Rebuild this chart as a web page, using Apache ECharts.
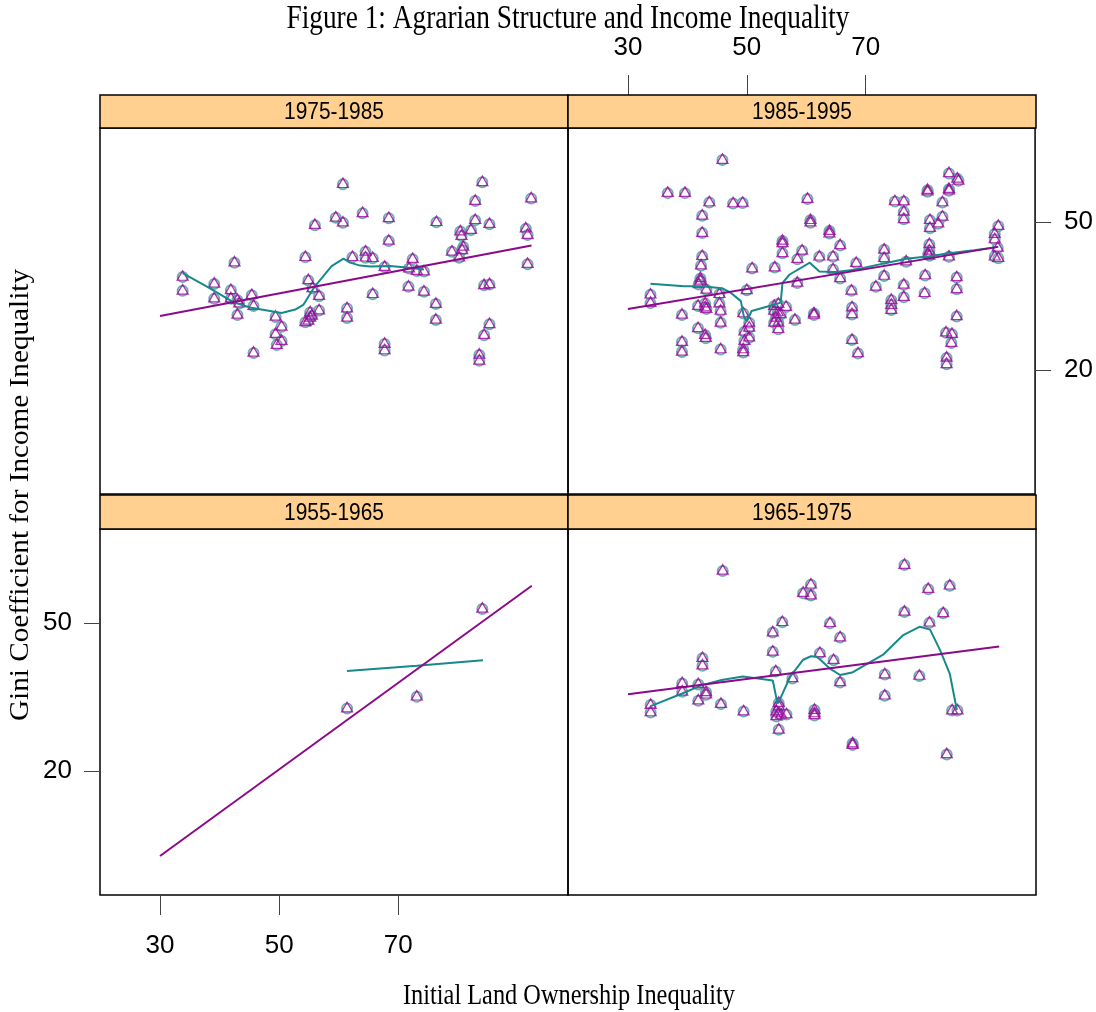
<!DOCTYPE html>
<html><head><meta charset="utf-8">
<script src="https://cdn.jsdelivr.net/npm/echarts@6/dist/echarts.min.js"></script>
<style>html,body{margin:0;padding:0;background:#fff}#c{width:1096px;height:1012px}</style>
</head><body><div id="c"></div>
<script>
// ---------- data ----------
const panelNames = ['1975-1985', '1985-1995', '1955-1965', '1965-1975'];
const xTicks = [30, 50, 70];
const yTicks = [20, 50];
const titleText = 'Figure 1: Agrarian Structure and Income Inequality';
const xLabelText = 'Initial Land Ownership Inequality';
const yLabelText = 'Gini Coefficient for Income Inequality';

const pts7585 = [[33.8,39.2],[33.8,36.4],[39.1,37.8],[39.1,34.8],[42.5,42.1],[41.9,36.5],[41.9,34.8],[43.0,34.5],[43.3,33.8],[43.0,31.5],[45.4,35.5],[45.7,33.3],[45.7,23.8],[49.4,31.1],[50.4,29.1],[49.4,27.6],[50.4,26.2],[49.6,25.4],[54.4,43.2],[54.9,38.5],[55.6,36.9],[56.7,35.3],[56.7,32.4],[55.2,32.0],[55.5,31.3],[55.2,30.9],[54.9,30.3],[54.4,30.0],[56.0,49.7],[60.7,58.0],[59.5,51.2],[60.7,50.2],[62.3,43.2],[61.4,32.8],[61.4,30.9],[64.0,52.1],[64.5,44.3],[64.5,43.1],[65.7,43.0],[68.4,51.1],[68.4,46.5],[67.7,41.2],[65.7,35.7],[67.7,25.6],[67.7,24.3],[72.4,42.8],[71.8,40.9],[73.1,40.4],[74.3,40.3],[71.7,37.2],[74.3,36.2],[76.4,50.3],[76.3,33.7],[76.3,30.5],[79.0,44.3],[80.4,48.4],[80.6,47.5],[80.9,45.3],[80.7,44.6],[80.2,43.1],[82.2,48.7],[82.9,54.6],[82.9,50.7],[84.1,58.4],[85.3,49.9],[84.4,37.5],[85.3,37.7],[85.3,29.6],[84.4,27.4],[83.6,23.4],[83.6,22.2],[91.4,49.0],[91.7,47.7],[92.3,55.1],[91.7,41.8]];
const reg7585 = [[30,31.0],[92.35,45.3]];
const loess7585 = [[33.8,39.7],[38.1,36.8],[42.3,33.8],[45.1,32.7],[50.4,31.6],[52.7,32.3],[54.1,33.3],[56.0,37.0],[58.8,41.1],[60.8,42.6],[61.9,41.8],[63.6,41.2],[65.3,41.0],[68.6,41.1],[71.4,40.8],[74.3,40.4]];

const pts8595 = [[45.9,62.9],[36.7,56.2],[39.6,56.2],[43.7,54.3],[47.7,54.1],[49.3,54.2],[42.5,51.6],[42.5,48.1],[42.5,43.4],[42.3,41.5],[42.2,38.9],[42.2,38.4],[41.9,37.7],[43.2,36.6],[33.8,35.6],[33.8,33.9],[39.1,31.5],[41.8,33.3],[43.0,33.8],[43.0,33.0],[43.2,32.7],[45.4,35.7],[45.4,33.8],[45.6,32.3],[45.6,29.9],[41.8,28.8],[43.0,27.4],[43.1,26.8],[39.1,26.0],[39.1,24.0],[45.6,24.5],[49.4,24.5],[49.4,23.9],[49.6,26.2],[49.6,28.1],[50.4,26.9],[50.4,28.9],[50.4,29.9],[49.4,31.8],[50.0,36.5],[50.9,40.9],[54.7,41.1],[56.0,46.5],[56.0,46.0],[56.0,44.0],[59.3,44.5],[58.5,42.8],[58.5,38.0],[58.1,30.5],[54.6,33.3],[55.3,33.7],[56.6,33.1],[54.6,32.3],[55.2,32.0],[55.7,31.6],[54.9,30.9],[55.3,29.9],[54.6,29.9],[55.3,28.6],[60.2,55.0],[60.7,50.7],[60.7,50.2],[63.9,48.5],[63.9,48.0],[65.7,45.6],[62.2,43.3],[64.5,43.3],[64.5,40.7],[65.7,38.9],[68.4,42.0],[67.6,36.4],[61.3,31.8],[61.3,31.5],[67.7,33.0],[67.7,31.6],[67.7,26.4],[68.7,23.7],[71.7,37.2],[73.1,44.7],[73.1,43.0],[73.1,39.4],[74.3,34.5],[74.3,33.5],[74.3,32.5],[74.9,54.5],[76.4,54.5],[76.4,52.4],[76.4,50.9],[76.4,37.6],[76.4,35.1],[76.8,42.3],[80.0,39.5],[79.9,35.9],[80.4,56.8],[80.4,56.5],[80.7,45.8],[80.7,44.5],[80.5,43.8],[80.7,43.5],[80.8,50.7],[80.8,49.1],[82.2,50.0],[82.9,51.4],[82.9,54.3],[84.0,60.2],[84.0,57.0],[84.0,56.7],[85.4,59.1],[85.6,58.7],[84.0,43.3],[85.3,39.1],[85.3,36.7],[85.3,31.2],[83.5,27.9],[84.5,27.6],[84.4,25.8],[83.6,22.8],[83.6,21.5],[91.7,47.9],[91.7,46.8],[92.3,49.5],[92.2,45.1],[91.7,43.3],[92.3,43.0]];
const reg8595 = [[30,32.4],[92.2,45.0]];
const loess8595 = [[33.8,37.5],[39.5,37.0],[42.3,37.0],[45.9,36.6],[47.3,35.7],[49.0,34.0],[49.5,30.9],[50.0,29.9],[50.8,32.0],[54.1,33.1],[55.7,33.7],[56.0,37.7],[57.2,39.4],[60.6,41.8],[62.2,40.0],[65.0,39.9],[68.4,40.4],[72.9,41.6],[76.8,42.6],[80.7,43.1],[84.0,43.7],[88.2,44.3],[92.3,45.0]];

const pts5565 = [[61.4,33.0],[73.1,35.4],[84.1,53.2]];
const reg5565 = [[30,2.8],[92.4,57.6]];
const loess5565 = [[61.4,40.3],[73.1,41.4],[84.2,42.5]];

const pts6575 = [[45.9,60.9],[42.5,43.2],[42.5,41.7],[39.1,38.1],[39.1,36.4],[41.8,37.9],[41.8,34.6],[43.1,36.3],[43.1,35.8],[33.8,33.7],[33.8,32.2],[45.6,33.9],[49.4,32.4],[54.3,48.4],[55.9,50.5],[54.3,44.5],[54.8,40.5],[57.6,39.1],[55.3,34.1],[55.3,33.4],[54.9,32.4],[55.3,32.0],[54.9,31.4],[55.7,31.7],[56.6,31.8],[55.3,28.7],[59.4,56.4],[60.7,58.1],[60.7,55.9],[63.9,50.3],[65.6,47.4],[62.2,44.2],[64.5,42.8],[65.6,38.3],[61.3,32.7],[61.3,32.0],[61.3,31.6],[67.7,25.9],[67.7,25.6],[73.1,39.9],[73.1,35.6],[76.4,62.1],[76.4,52.6],[80.4,57.2],[80.6,50.4],[78.9,39.6],[82.9,52.3],[84.0,57.9],[84.4,32.6],[85.3,32.6],[83.5,23.7]];
const reg6575 = [[30,35.6],[92.3,45.3]];
const loess6575 = [[33.8,33.2],[39.0,35.7],[42.3,37.4],[45.7,38.5],[49.3,39.2],[54.3,38.4],[55.1,33.7],[55.7,35.1],[57.2,39.1],[59.4,42.6],[60.7,43.3],[61.7,43.2],[63.9,40.8],[65.6,39.5],[67.6,40.0],[72.9,43.7],[76.2,47.6],[79.0,49.3],[80.7,48.7],[82.4,44.5],[84.0,39.8],[85.2,32.4]];

// ---------- layout / style ----------
const X_MIN = 19.93, X_MAX = 98.48, Y_MIN = -5.1, Y_MAX = 69.1;
const PW = 468, PH = 366;
const gridPos = [[100,128],[568,128],[100,529],[568,529]];
const stripPos = [[100,95,33],[568,95,33],[100,495,34],[568,495,34]];
const SANS = '"Liberation Sans", Arial, sans-serif';
const SERIF = '"Liberation Serif", "Times New Roman", serif';
const TICK_COL = '#444';

const mctx = document.createElement('canvas').getContext('2d');
function fitScale(text, font, target) { mctx.font = font; return target / mctx.measureText(text).width; }

const grids = gridPos.map(p => ({left: p[0], top: p[1], width: PW, height: PH, show: true, borderColor: '#000', borderWidth: 1.5, backgroundColor: 'rgba(0,0,0,0)'}));

function xAx(i, opts) {
  const base = {type: 'value', gridIndex: i, min: X_MIN, max: X_MAX, splitLine: {show: false}, axisLine: {show: false, onZero: false},
    axisTick: {show: false}, axisLabel: {show: false}};
  return Object.assign(base, opts || {});
}
function yAx(i, opts) {
  const base = {type: 'value', gridIndex: i, min: Y_MIN, max: Y_MAX, splitLine: {show: false}, axisLine: {show: false, onZero: false},
    axisTick: {show: false}, axisLabel: {show: false}};
  return Object.assign(base, opts || {});
}
const tickLab = {show: true, customValues: xTicks, fontSize: 26, fontFamily: SANS, color: '#000'};
const xAxes = [
  xAx(0),
  xAx(1, {position: 'top', offset: 33, axisTick: {show: true, customValues: xTicks, length: 20, lineStyle: {color: TICK_COL, width: 1}},
          axisLabel: Object.assign({}, tickLab, {margin: 34})}),
  xAx(2, {position: 'bottom', axisTick: {show: true, customValues: xTicks, length: 20, lineStyle: {color: TICK_COL, width: 1}},
          axisLabel: Object.assign({}, tickLab, {margin: 38})}),
  xAx(3)
];
const yAxes = [
  yAx(0),
  yAx(1, {position: 'right', axisTick: {show: true, customValues: yTicks, length: 16, lineStyle: {color: TICK_COL, width: 1}},
          axisLabel: Object.assign({}, tickLab, {customValues: yTicks, margin: 29})}),
  yAx(2, {position: 'left', axisTick: {show: true, customValues: yTicks, length: 16, lineStyle: {color: TICK_COL, width: 1}},
          axisLabel: Object.assign({}, tickLab, {customValues: yTicks, margin: 28})}),
  yAx(3)
];

const panelData = [
  [pts7585, reg7585, loess7585],
  [pts8595, reg8595, loess8595],
  [pts5565, reg5565, loess5565],
  [pts6575, reg6575, loess6575]
];
const series = [];
panelData.forEach((d, i) => {
  series.push({type: 'scatter', xAxisIndex: i, yAxisIndex: i, data: d[0], symbol: 'emptyCircle', symbolSize: 10, symbolOffset: [0, 1.5],
    itemStyle: {color: '#62a6a6', borderColor: '#62a6a6', borderWidth: 1.1, opacity: 0.9}, silent: true, z: 2});
  series.push({type: 'scatter', xAxisIndex: i, yAxisIndex: i, data: d[0], symbol: 'triangle', symbolSize: [11, 9.5],
    itemStyle: {color: 'rgba(255,255,255,0)', borderColor: '#a000a0', borderWidth: 1.3}, silent: true, z: 3});
  series.push({type: 'line', xAxisIndex: i, yAxisIndex: i, data: d[2], symbol: 'none', smooth: false,
    lineStyle: {color: '#168a8a', width: 2}, silent: true, z: 4});
  series.push({type: 'line', xAxisIndex: i, yAxisIndex: i, data: d[1], symbol: 'none',
    lineStyle: {color: '#8b0a8b', width: 2}, silent: true, z: 5});
});

const graphics = [];
const stripFont = '24px ' + SANS;
stripPos.forEach((s, i) => {
  graphics.push({type: 'rect', shape: {x: s[0], y: s[1], width: PW, height: s[2]}, style: {fill: '#ffd08f', stroke: '#000', lineWidth: 1.5}, z: 10});
  graphics.push({type: 'text', x: s[0] + PW / 2, y: s[1] + s[2] / 2 + 1, scaleX: fitScale(panelNames[i], stripFont, 100),
    style: {text: panelNames[i], font: stripFont, fill: '#000', align: 'center', verticalAlign: 'middle'}, z: 11});
});
const titleFont = '34px ' + SERIF;
graphics.push({type: 'text', x: 568, y: 19, scaleX: fitScale(titleText, titleFont, 563),
  style: {text: titleText, font: titleFont, fill: '#000', align: 'center', verticalAlign: 'middle'}, z: 11});
const xlFont = '29px ' + SERIF;
graphics.push({type: 'text', x: 569, y: 996, scaleX: fitScale(xLabelText, xlFont, 332),
  style: {text: xLabelText, font: xlFont, fill: '#000', align: 'center', verticalAlign: 'middle'}, z: 11});
const ylFont = '27px ' + SERIF;
graphics.push({type: 'text', x: 21, y: 495, rotation: Math.PI / 2, scaleX: fitScale(yLabelText, ylFont, 452),
  style: {text: yLabelText, font: ylFont, fill: '#000', align: 'center', verticalAlign: 'middle'}, z: 11});

const chart = echarts.init(document.getElementById('c'), null, {renderer: 'canvas'});
chart.setOption({
  animation: false,
  backgroundColor: '#fff',
  grid: grids,
  xAxis: xAxes,
  yAxis: yAxes,
  series: series,
  graphic: graphics
});
</script></body></html>
